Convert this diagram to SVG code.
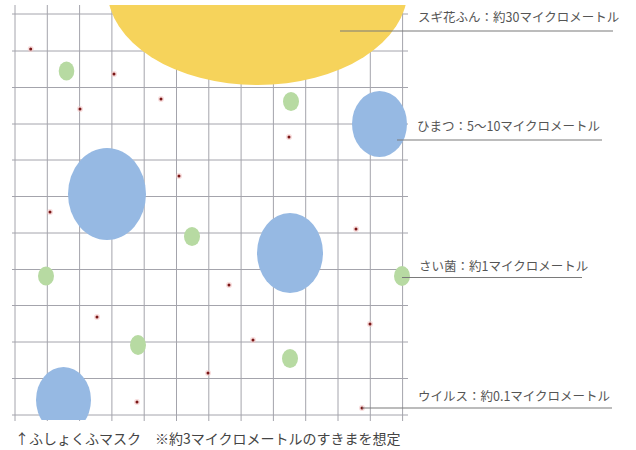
<svg xmlns="http://www.w3.org/2000/svg" width="636" height="450" viewBox="0 0 636 450">
<defs>
<style>
.grid line{stroke:#a4a4ac;stroke-width:1}
.blue{fill:#96b9e3}
.green{fill:#b7daa2}
.dot{fill:#7a1616}
.halo{fill:#f4c6c6;opacity:0.6}
.lead{stroke:#7a7a7a;stroke-width:1.2}
.lbl{font-family:"Noto Sans CJK JP","Noto Sans",sans-serif;font-size:12.5px;fill:#555}
.foot{font-family:"Noto Sans CJK JP","Noto Sans",sans-serif;font-size:14px;fill:#444}
</style>
<clipPath id="topclip"><rect x="0" y="5" width="636" height="445"/></clipPath>
<clipPath id="botclip"><rect x="0" y="0" width="636" height="420"/></clipPath>
</defs>
<rect width="636" height="450" fill="#fff"/>
<g id="grid" class="grid">
<line x1="15" y1="5" x2="15" y2="421"/>
<line x1="47.3" y1="5" x2="47.3" y2="421"/>
<line x1="79.6" y1="5" x2="79.6" y2="421"/>
<line x1="111.9" y1="5" x2="111.9" y2="421"/>
<line x1="144.2" y1="5" x2="144.2" y2="421"/>
<line x1="176.5" y1="5" x2="176.5" y2="421"/>
<line x1="208.8" y1="5" x2="208.8" y2="421"/>
<line x1="241.1" y1="5" x2="241.1" y2="421"/>
<line x1="273.4" y1="5" x2="273.4" y2="421"/>
<line x1="305.7" y1="5" x2="305.7" y2="421"/>
<line x1="338" y1="5" x2="338" y2="421"/>
<line x1="370.3" y1="5" x2="370.3" y2="421"/>
<line x1="402.6" y1="5" x2="402.6" y2="421"/>
<line x1="12" y1="14" x2="408" y2="14"/>
<line x1="12" y1="51" x2="408" y2="51"/>
<line x1="12" y1="87.5" x2="408" y2="87.5"/>
<line x1="12" y1="124" x2="408" y2="124"/>
<line x1="12" y1="160" x2="408" y2="160"/>
<line x1="12" y1="196.5" x2="408" y2="196.5"/>
<line x1="12" y1="233" x2="408" y2="233"/>
<line x1="12" y1="269.5" x2="408" y2="269.5"/>
<line x1="12" y1="305.5" x2="408" y2="305.5"/>
<line x1="12" y1="342" x2="408" y2="342"/>
<line x1="12" y1="378.5" x2="408" y2="378.5"/>
<line x1="12" y1="415" x2="408" y2="415"/>
</g>
<g id="pollen">
<ellipse cx="257.5" cy="-10" rx="150" ry="95" fill="#f6d35b" clip-path="url(#topclip)"/>
</g>
<g id="droplets">
<ellipse class="blue" cx="379.5" cy="124" rx="27.5" ry="33"/>
<ellipse class="blue" cx="107" cy="194" rx="39" ry="46"/>
<ellipse class="blue" cx="290" cy="253" rx="33" ry="40"/>
<ellipse class="blue" cx="63.5" cy="400" rx="27.5" ry="33" clip-path="url(#botclip)"/>
</g>
<g id="bacteria">
<ellipse class="green" cx="66.5" cy="71" rx="7.8" ry="9.5"/>
<ellipse class="green" cx="291" cy="101.5" rx="8" ry="9.5"/>
<ellipse class="green" cx="192" cy="236.5" rx="8" ry="9.5"/>
<ellipse class="green" cx="46" cy="276" rx="8" ry="9.5"/>
<ellipse class="green" cx="402" cy="276" rx="8" ry="10"/>
<ellipse class="green" cx="138" cy="345" rx="8" ry="10"/>
<ellipse class="green" cx="290" cy="358.5" rx="8" ry="9.5"/>
</g>
<g id="viruses">
<circle class="halo" cx="30.7" cy="49" r="3"/><circle class="dot" cx="30.7" cy="49" r="1.5"/>
<circle class="halo" cx="114" cy="74" r="3"/><circle class="dot" cx="114" cy="74" r="1.5"/>
<circle class="halo" cx="80" cy="109" r="3"/><circle class="dot" cx="80" cy="109" r="1.5"/>
<circle class="halo" cx="161" cy="99" r="3"/><circle class="dot" cx="161" cy="99" r="1.5"/>
<circle class="halo" cx="289" cy="137" r="3"/><circle class="dot" cx="289" cy="137" r="1.5"/>
<circle class="halo" cx="179" cy="176" r="3"/><circle class="dot" cx="179" cy="176" r="1.5"/>
<circle class="halo" cx="50" cy="212" r="3"/><circle class="dot" cx="50" cy="212" r="1.5"/>
<circle class="halo" cx="356" cy="229" r="3"/><circle class="dot" cx="356" cy="229" r="1.5"/>
<circle class="halo" cx="229" cy="285" r="3"/><circle class="dot" cx="229" cy="285" r="1.5"/>
<circle class="halo" cx="97" cy="317" r="3"/><circle class="dot" cx="97" cy="317" r="1.5"/>
<circle class="halo" cx="370" cy="324" r="3"/><circle class="dot" cx="370" cy="324" r="1.5"/>
<circle class="halo" cx="253" cy="340" r="3"/><circle class="dot" cx="253" cy="340" r="1.5"/>
<circle class="halo" cx="208" cy="373" r="3"/><circle class="dot" cx="208" cy="373" r="1.5"/>
<circle class="halo" cx="137" cy="402" r="3"/><circle class="dot" cx="137" cy="402" r="1.5"/>
<circle class="halo" cx="362" cy="408" r="3"/><circle class="dot" cx="362" cy="408" r="1.5"/>
</g>
<g id="connectors">
<line class="lead" x1="340" y1="31" x2="613" y2="31"/>
<line class="lead" x1="397" y1="140" x2="602" y2="140"/>
<line class="lead" x1="402" y1="277.5" x2="582" y2="277.5"/>
<line class="lead" x1="362" y1="408" x2="612" y2="408"/>
</g>
<g id="label-pollen"><text class="lbl" x="418" y="22">スギ花ふん：約30マイクロメートル</text></g>
<g id="label-droplet"><text class="lbl" x="417" y="131">ひまつ：5〜10マイクロメートル</text></g>
<g id="label-bacteria"><text class="lbl" x="419" y="271">さい菌：約1マイクロメートル</text></g>
<g id="label-virus"><text class="lbl" x="418" y="401">ウイルス：約0.1マイクロメートル</text></g>
<g id="footnote"><text class="foot" x="15" y="444">↑ふしょくふマスク　※約3マイクロメートルのすきまを想定</text></g>
</svg>
